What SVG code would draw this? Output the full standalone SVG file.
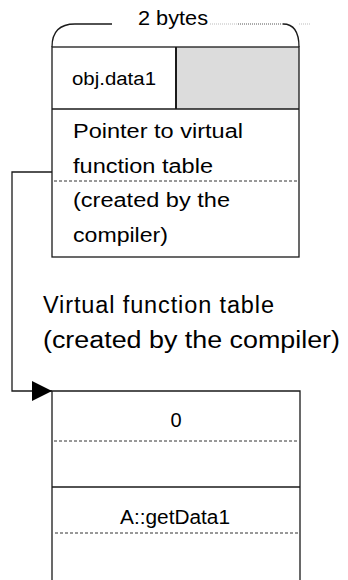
<svg xmlns="http://www.w3.org/2000/svg" width="348" height="580" viewBox="0 0 348 580">
<style>
.ln{fill:none;stroke:#1a1a1a;stroke-width:1.3}
.dash{fill:none;stroke:#333;stroke-width:1;stroke-dasharray:3 2}
.dot{fill:none;stroke:#555;stroke-width:1;stroke-dasharray:1 1}
.faint{fill:none;stroke:#bbb;stroke-width:1;stroke-dasharray:1 1}
text{font-family:"Liberation Sans",Arial,sans-serif;fill:#000}
.t{font-size:20px}
.s{font-size:18px}
.big{font-size:23.5px}
</style>
<defs>
<marker id="arr" markerWidth="20" markerHeight="20" refX="20" refY="10" orient="auto" markerUnits="userSpaceOnUse">
<path d="M0,0 L20,10 L0,20 Z" fill="#000"/>
</marker>
</defs>
<rect width="348" height="580" fill="#fff"/>
<g id="brace">
<path class="ln" d="M52,47 Q52,24 75,24 L112,24"/>
<path class="faint" d="M210,24 L238,24 M299,24 L310,24"/>
<path class="dot" d="M238,24 L283,24"/>
<path class="ln" d="M283,24 Q299,24 299,47"/>
<text class="t" x="138" y="25" textLength="70" lengthAdjust="spacingAndGlyphs">2 bytes</text>
</g>
<g id="object">
<rect x="177" y="47" width="122" height="62" fill="#dcdcdc"/>
<rect class="ln" x="52" y="47" width="247" height="210"/>
<line class="ln" x1="52" y1="109" x2="299" y2="109"/>
<line x1="176" y1="47" x2="176" y2="109" stroke="#1a1a1a" stroke-width="2"/>
<line class="dash" x1="54" y1="181" x2="298" y2="181"/>
<text class="s" x="72" y="85" textLength="84" lengthAdjust="spacingAndGlyphs">obj.data1</text>
<text class="t" x="73" y="138" textLength="170" lengthAdjust="spacingAndGlyphs">Pointer to virtual</text>
<text class="t" x="73" y="173" textLength="140" lengthAdjust="spacingAndGlyphs">function table</text>
<text class="t" x="73" y="207" textLength="157" lengthAdjust="spacingAndGlyphs">(created by the</text>
<text class="t" x="73" y="242" textLength="95" lengthAdjust="spacingAndGlyphs">compiler)</text>
</g>
<g id="label">
<text class="big" x="43" y="313" textLength="231" lengthAdjust="spacing">Virtual function table</text>
<text class="big" x="43" y="348" textLength="297" lengthAdjust="spacingAndGlyphs">(created  by the compiler)</text>
</g>
<g id="vtable">
<path class="ln" d="M52,580 L52,391 L300,391 L300,580"/>
<line class="dash" x1="54" y1="441" x2="299" y2="441"/>
<line class="ln" x1="52" y1="487" x2="300" y2="487"/>
<line class="dash" x1="55" y1="533" x2="298" y2="533"/>
<text class="t" x="176" y="427" text-anchor="middle">0</text>
<text class="t" x="120" y="524" textLength="110" lengthAdjust="spacingAndGlyphs">A::getData1</text>
</g>
<g id="connectors">
<path class="ln" d="M52,172 L12,172 L12,391 L52,391" marker-end="url(#arr)"/>
</g>
</svg>
